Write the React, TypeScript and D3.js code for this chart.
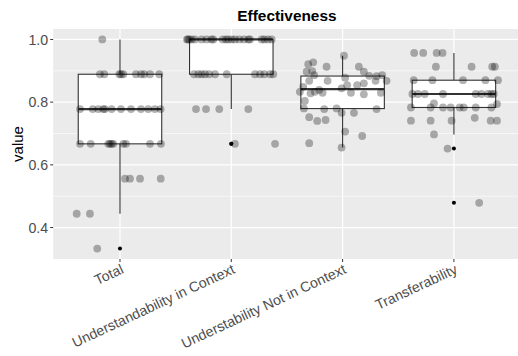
import React from 'react';
import * as d3 from 'd3';

// categories on the x axis
const categories = [
  'Total',
  'Understandability in Context',
  'Understability Not in Context',
  'Transferability',
];

const totalValues = [
  1.0,
  0.889, 0.889, 0.889, 0.889, 0.889, 0.889, 0.889, 0.889, 0.889, 0.889,
  0.778, 0.778, 0.778, 0.778, 0.778, 0.778, 0.778, 0.778, 0.778, 0.778, 0.778, 0.778,
  0.667, 0.667, 0.667, 0.667, 0.667, 0.667, 0.667, 0.667, 0.667, 0.667,
  0.556, 0.556, 0.556, 0.556,
  0.444, 0.444,
  0.333,
];
const totalJitter = [
  -0.159,
  -0.18, -0.141, -0.006, 0.03, 0.144, 0.189, 0.218, 0.27, 0.353, 0.01,
  -0.359, -0.245, -0.195, -0.15, -0.135, -0.075, 0.009, 0.099, 0.189, 0.254, 0.314, 0.365,
  -0.359, -0.263, -0.105, -0.09, -0.075, -0.06, 0.03, 0.054, 0.27, 0.368,
  0.045, 0.09, 0.18, 0.366,
  -0.389, -0.27,
  -0.204,
];

const inContextValues = [
  1.0, 1.0, 1.0, 1.0, 1.0, 1.0, 1.0, 1.0, 1.0, 1.0, 1.0,
  1.0, 1.0, 1.0, 1.0, 1.0, 1.0, 1.0, 1.0, 1.0, 1.0, 1.0,
  0.889, 0.889, 0.889, 0.889, 0.889, 0.889, 0.889, 0.889, 0.889, 0.889, 0.889, 0.889,
  0.778, 0.778, 0.778, 0.778,
  0.667, 0.667,
];
const inContextJitter = [
  -0.398, -0.389, -0.377, -0.356, -0.327, -0.267, -0.222, -0.177, -0.162, -0.077, -0.048,
  -0.027, 0.004, 0.033, 0.072, 0.114, 0.153, 0.168, 0.273, 0.297, 0.33, 0.363,
  -0.335, -0.296, -0.266, -0.236, -0.198, -0.146, -0.041, 0.213, 0.258, 0.296, 0.348, 0.377,
  -0.317, -0.227, -0.108, 0.153,
  0.033, 0.393,
];

const notInContextValues = [
  0.948, 0.921, 0.927, 0.913, 0.913, 0.897, 0.899, 0.886, 0.897, 0.884, 0.883,
  0.886, 0.878, 0.868, 0.868, 0.868, 0.868, 0.849, 0.833, 0.828, 0.833, 0.839,
  0.83, 0.844, 0.854, 0.854, 0.86, 0.83, 0.825, 0.83, 0.804, 0.78,
  0.778, 0.78, 0.766, 0.766, 0.778, 0.752, 0.74, 0.743, 0.706, 0.692,
  0.669, 0.655,
];
const notInContextJitter = [
  0.012, -0.309, -0.264, -0.144, 0.146, -0.323, -0.273, -0.255, 0.191, 0.239, 0.305,
  0.356, 0.023, -0.135, -0.3, 0.395, 0.296, -0.354, -0.384, -0.288, -0.249, -0.21,
  -0.18, -0.009, 0.041, 0.131, 0.191, 0.075, 0.191, 0.344, -0.339, -0.348,
  -0.165, -0.054, -0.009, 0.102, 0.305, -0.3, -0.228, -0.153, 0.023, 0.176,
  -0.3, -0.009,
];

const transferValues = [
  0.957, 0.957, 0.957, 0.957,
  0.913, 0.913, 0.913, 0.913,
  0.87, 0.87, 0.87, 0.87, 0.87,
  0.826, 0.826, 0.826, 0.826, 0.826, 0.826, 0.826, 0.826, 0.826,
  0.796, 0.794,
  0.783, 0.783, 0.783, 0.783, 0.783, 0.783, 0.783, 0.783,
  0.741, 0.741, 0.741, 0.741, 0.741,
  0.75, 0.697, 0.652, 0.479,
];
const transferJitter = [
  -0.357, -0.276, -0.155, -0.102,
  -0.162, 0.159, 0.344, 0.368,
  -0.361, -0.193, 0.082, 0.283, 0.396,
  -0.373, -0.323, -0.262, -0.098, 0.196, 0.247, 0.306, 0.337, 0.358,
  -0.179, 0.387,
  -0.386, -0.209, -0.098, -0.029, 0.052, 0.088, 0.196, 0.337,
  -0.386, -0.209, -0.021, 0.33, 0.387,
  0.187, -0.179, -0.057, 0.227,
];

const yTicks = [0.4, 0.6, 0.8, 1.0];
const yMinor = [0.5, 0.7, 0.9];

const groups = [
  { name: categories[0], values: totalValues, jitter: totalJitter },
  { name: categories[1], values: inContextValues, jitter: inContextJitter },
  { name: categories[2], values: notInContextValues, jitter: notInContextJitter },
  { name: categories[3], values: transferValues, jitter: transferJitter },
];

const W = 518;
const H = 356;
const margin = { top: 29, right: -2.7, bottom: 97, left: 53.2 };
const font = '"Liberation Sans", Arial, Helvetica, sans-serif';

const boxStats = (vals: number[]) => {
  const s = [...vals].sort(d3.ascending);
  const q1 = d3.quantile(s, 0.25) as number;
  const med = d3.quantile(s, 0.5) as number;
  const q3 = d3.quantile(s, 0.75) as number;
  const iqr = q3 - q1;
  const lo = q1 - 1.5 * iqr;
  const hi = q3 + 1.5 * iqr;
  const inside = s.filter(v => v >= lo && v <= hi);
  return {
    q1, med, q3,
    wLo: d3.min(inside) as number,
    wHi: d3.max(inside) as number,
    outliers: s.filter(v => v < lo || v > hi),
  };
};

export default function App() {
  const allVals = groups.flatMap(g => g.values);
  const [mn, mx] = d3.extent(allVals) as [number, number];
  const pad = (mx - mn) * 0.05;

  const x = d3.scalePoint<string>()
    .domain(categories)
    .range([margin.left, W - margin.right])
    .padding(0.6);
  const step = x.step();

  const y = d3.scaleLinear()
    .domain([mn - pad, mx + pad])
    .range([H - margin.bottom, margin.top]);

  const pLeft = margin.left;
  const pRight = W - margin.right;
  const pTop = margin.top;
  const pBottom = H - margin.bottom;
  const boxW = step * 0.75;

  return (
    <svg width={W} height={H} style={{ position: 'absolute', left: 0, top: 0, background: '#fff' }}>
      <text x={(pLeft + pRight) / 2} y={21} textAnchor="middle" fontFamily={font}
        fontWeight="bold" fontSize={15.4} fill="#000">Effectiveness</text>

      <rect x={pLeft} y={pTop} width={pRight - pLeft} height={pBottom - pTop} fill="#EBEBEB" />
      {yMinor.map(t => (
        <line key={'mn' + t} x1={pLeft} x2={pRight} y1={y(t)} y2={y(t)} stroke="#fff" strokeWidth={0.6} />
      ))}
      {yTicks.map(t => (
        <line key={'mj' + t} x1={pLeft} x2={pRight} y1={y(t)} y2={y(t)} stroke="#fff" strokeWidth={1.2} />
      ))}
      {categories.map(c => (
        <line key={'v' + c} x1={x(c)} x2={x(c)} y1={pTop} y2={pBottom} stroke="#fff" strokeWidth={1.2} />
      ))}

      {groups.map(g => {
        const b = boxStats(g.values);
        const cx = x(g.name) as number;
        return (
          <g key={'box' + g.name}>
            <line x1={cx} x2={cx} y1={y(b.q3)} y2={y(b.wHi)} stroke="#333" strokeWidth={1.1} />
            <line x1={cx} x2={cx} y1={y(b.q1)} y2={y(b.wLo)} stroke="#333" strokeWidth={1.1} />
            <rect x={cx - boxW / 2} y={y(b.q3)} width={boxW} height={y(b.q1) - y(b.q3)}
              fill="#fff" stroke="#333" strokeWidth={1.1} />
            <line x1={cx - boxW / 2} x2={cx + boxW / 2} y1={y(b.med)} y2={y(b.med)} stroke="#333" strokeWidth={2.2} />
            {b.outliers.map((o, i) => (
              <circle key={i} cx={cx} cy={y(o)} r={2} fill="#000" />
            ))}
          </g>
        );
      })}

      {groups.map(g => {
        const cx = x(g.name) as number;
        return (
          <g key={'pts' + g.name}>
            {g.values.map((v, i) => (
              <circle key={i} cx={cx + g.jitter[i] * step} cy={y(v)} r={3.9} fill="#000" fillOpacity={0.3} />
            ))}
          </g>
        );
      })}

      {yTicks.map(t => (
        <g key={'yt' + t}>
          <line x1={pLeft - 3} x2={pLeft} y1={y(t)} y2={y(t)} stroke="#333" strokeWidth={1} />
          <text x={pLeft - 5} y={y(t)} dy="0.36em" textAnchor="end" fontFamily={font}
            fontSize={14.2} fill="#4D4D4D">{t.toFixed(1)}</text>
        </g>
      ))}
      <text transform={`translate(18,${(pTop + pBottom) / 2}) rotate(-90)`} textAnchor="middle"
        dy="0.35em" fontFamily={font} fontSize={15} fill="#000">value</text>

      {categories.map(c => {
        const cx = x(c) as number;
        return (
          <g key={'xt' + c}>
            <line x1={cx} x2={cx} y1={pBottom} y2={pBottom + 3} stroke="#333" strokeWidth={1} />
            <text transform={`translate(${cx},${pBottom + 4}) rotate(-25)`} textAnchor="end"
              dy="0.75em" fontFamily={font} fontSize={14.2} fill="#4D4D4D">{c}</text>
          </g>
        );
      })}
    </svg>
  );
}
